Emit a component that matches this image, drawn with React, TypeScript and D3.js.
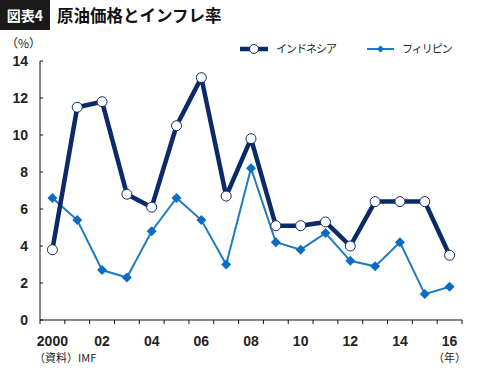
import React from "react";
import * as d3 from "d3";

const years = ["2000","2001","2002","2003","2004","2005","2006","2007","2008","2009","2010","2011","2012","2013","2014","2015","2016"];
const xTickLabels: Record<string, string> = { "2000": "2000", "2002": "02", "2004": "04", "2006": "06", "2008": "08", "2010": "10", "2012": "12", "2014": "14", "2016": "16" };
const indonesia = [3.8, 11.5, 11.8, 6.8, 6.1, 10.5, 13.1, 6.7, 9.8, 5.1, 5.1, 5.3, 4.0, 6.4, 6.4, 6.4, 3.5];
const philippines = [6.6, 5.4, 2.7, 2.3, 4.8, 6.6, 5.4, 3.0, 8.2, 4.2, 3.8, 4.7, 3.2, 2.9, 4.2, 1.4, 1.8];
const yTicks = [0, 2, 4, 6, 8, 10, 12, 14];

const NAVY = "#0b2a67";
const BLUE = "#1f7cc2";
const BLUE_M = "#0c6dc0";
const FONT = "'Liberation Sans', Arial, 'Noto Sans CJK JP', sans-serif";
const JFONT = "'Noto Sans CJK JP', sans-serif";

export default function App() {
  const W = 477, H = 375;
  const left = 40, right = 462, top = 61, bottom = 320;
  const x = d3.scaleBand<string>().domain(years).range([left, right]);
  const y = d3.scaleLinear().domain([0, 14]).range([bottom, top]);
  const cx = (i: number) => (x(years[i]) as number) + x.bandwidth() / 2;
  const line = d3.line<number>().x((_, i) => cx(i)).y((d) => y(d));
  const boundaries = years.map((yr) => x(yr) as number).concat([right]);
  const diamond = (px: number, py: number, r: number) =>
    `M${px},${py - r}L${px + r},${py}L${px},${py + r}L${px - r},${py}Z`;

  return (
    <svg width={W} height={H} style={{ position: "absolute", left: 0, top: 0, background: "#fff" }}>
      <rect x={0} y={0} width={50} height={30} fill="#1a1a1a" />
      <text x={25} y={21} textAnchor="middle" fill="#fff" fontFamily={JFONT} fontWeight="bold" fontSize={14}>図表4</text>
      <text x={57} y={22} fill="#111" fontFamily={JFONT} fontWeight="bold" fontSize={16.5}>原油価格とインフレ率</text>
      <text x={6} y={48} fill="#222" fontFamily={JFONT} fontSize={12}>（%）</text>

      {/* axes */}
      <line x1={left} x2={left} y1={top} y2={bottom} stroke="#111" strokeWidth={1} />
      <line x1={left} x2={right} y1={bottom} y2={bottom} stroke="#111" strokeWidth={1} />
      {yTicks.map((t) => (
        <g key={t}>
          <line x1={left} x2={left + 3} y1={y(t)} y2={y(t)} stroke="#111" />
          <text x={28} y={y(t) + 5} textAnchor="end" fontFamily={FONT} fontWeight="bold" fontSize={14} fill="#222">{t}</text>
        </g>
      ))}
      {boundaries.map((bx, i) => (
        <line key={i} x1={bx} x2={bx} y1={bottom} y2={bottom + 4} stroke="#111" />
      ))}
      {years.map((yr, i) =>
        xTickLabels[yr] ? (
          <text key={yr} x={cx(i)} y={346} textAnchor="middle" fontFamily={FONT} fontWeight="bold" fontSize={14} fill="#222">{xTickLabels[yr]}</text>
        ) : null
      )}
      <text x={34} y={362} fontFamily={JFONT} fontSize={11} fill="#222">（資料）IMF</text>
      <text x={466} y={362} textAnchor="end" fontFamily={JFONT} fontSize={11} fill="#222">（年）</text>

      {/* Philippines */}
      <path d={line(philippines) || ""} fill="none" stroke={BLUE} strokeWidth={2} />
      {philippines.map((v, i) => (
        <path key={i} d={diamond(cx(i), y(v), 5)} fill={BLUE_M} />
      ))}
      {/* Indonesia */}
      <path d={line(indonesia) || ""} fill="none" stroke={NAVY} strokeWidth={4.5} strokeLinejoin="round" />
      {indonesia.map((v, i) => (
        <circle key={i} cx={cx(i)} cy={y(v)} r={5} fill="#fff" stroke={NAVY} strokeWidth={1} />
      ))}

      {/* legend */}
      <line x1={240} x2={268} y1={49} y2={49} stroke={NAVY} strokeWidth={4.5} />
      <circle cx={254} cy={49} r={4.5} fill="#fff" stroke={NAVY} strokeWidth={1} />
      <text x={276} y={53} fontFamily={JFONT} fontSize={11} letterSpacing={-1} fill="#222">インドネシア</text>
      <line x1={367} x2={394} y1={49} y2={49} stroke={BLUE} strokeWidth={2} />
      <path d={diamond(380.5, 49, 3.5)} fill={BLUE_M} />
      <text x={402} y={53} fontFamily={JFONT} fontSize={11} letterSpacing={-1} fill="#222">フィリピン</text>
    </svg>
  );
}
